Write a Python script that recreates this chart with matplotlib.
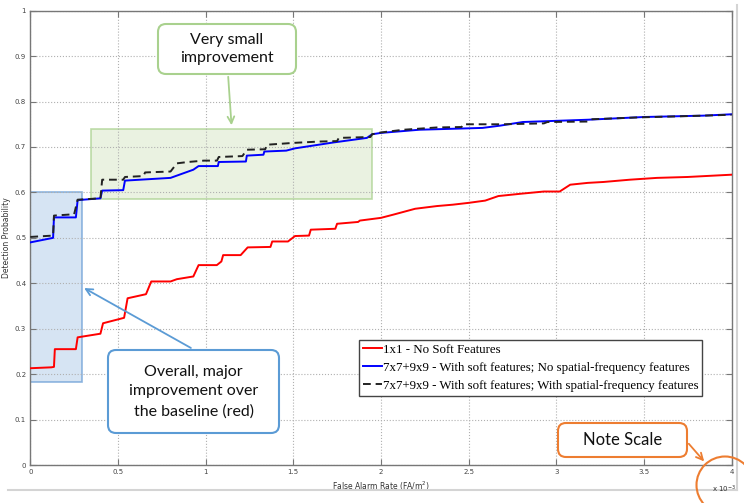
import matplotlib
matplotlib.use("Agg")
import matplotlib.pyplot as plt
from matplotlib.patches import Rectangle, FancyBboxPatch, Circle

# false alarm rate in units of 1e-3 FA/m^2, detection probability
red_x = [0, 0.12, 0.135, 0.14, 0.26, 0.27, 0.40, 0.415, 0.535, 0.555, 0.66, 0.69, 0.80, 0.836,
         0.93, 0.96, 1.064, 1.09, 1.10, 1.20, 1.24, 1.37, 1.38, 1.47, 1.51, 1.59, 1.60, 1.74,
         1.75, 1.87, 1.88, 2.00, 2.07, 2.195, 2.32, 2.41, 2.50, 2.595, 2.67, 2.795, 2.93, 3.02,
         3.08, 3.18, 3.27, 3.42, 3.575, 3.75, 4.0]
red_y = [0.213, 0.215, 0.216, 0.255, 0.255, 0.281, 0.289, 0.312, 0.324, 0.367, 0.376, 0.404,
         0.404, 0.409, 0.415, 0.440, 0.440, 0.448, 0.462, 0.462, 0.479, 0.480, 0.492, 0.492,
         0.504, 0.505, 0.518, 0.520, 0.531, 0.535, 0.538, 0.544, 0.551, 0.564, 0.570, 0.573,
         0.577, 0.582, 0.592, 0.597, 0.602, 0.602, 0.617, 0.621, 0.623, 0.628, 0.632, 0.634,
         0.639]

blue_x = [0, 0.13, 0.135, 0.26, 0.27, 0.40, 0.41, 0.53, 0.54, 0.80, 0.93, 0.96, 1.07, 1.075,
          1.23, 1.235, 1.33, 1.335, 1.46, 1.51, 1.73, 1.92, 1.95, 2.0, 2.22, 2.58, 2.68, 2.81,
          3.18, 3.5, 3.84, 4.0]
blue_y = [0.490, 0.500, 0.545, 0.545, 0.583, 0.587, 0.604, 0.605, 0.626, 0.632, 0.650, 0.658,
          0.658, 0.667, 0.668, 0.681, 0.683, 0.690, 0.692, 0.697, 0.710, 0.720, 0.728, 0.731,
          0.738, 0.742, 0.747, 0.755, 0.760, 0.766, 0.769, 0.772]

dash_x = [0, 0.13, 0.135, 0.25, 0.27, 0.40, 0.41, 0.53, 0.54, 0.645, 0.655, 0.80, 0.836, 0.90,
          0.99, 1.065, 1.075, 1.21, 1.235, 1.34, 1.35, 1.50, 1.65, 1.75, 1.76, 1.94, 1.95,
          2.0, 2.13, 2.32, 2.46, 2.47, 2.70, 2.93, 2.95, 3.18, 3.20, 3.46, 3.65, 3.84, 4.0]
dash_y = [0.502, 0.505, 0.549, 0.552, 0.584, 0.587, 0.628, 0.628, 0.634, 0.636, 0.644, 0.646,
          0.664, 0.667, 0.670, 0.670, 0.678, 0.680, 0.694, 0.695, 0.705, 0.709, 0.712, 0.713,
          0.720, 0.722, 0.728, 0.732, 0.738, 0.743, 0.744, 0.750, 0.750, 0.752, 0.755, 0.756,
          0.761, 0.765, 0.767, 0.769, 0.771]

labels = ["1x1 - No Soft Features",
          "7x7+9x9 - With soft features; No spatial-frequency features",
          "7x7+9x9 - With soft features; With spatial-frequency features"]

W, H = 744, 503
fig = plt.figure(figsize=(W / 100, H / 100), dpi=100)
fig.patch.set_facecolor("white")

ax = fig.add_axes([30.3 / W, 38 / H, 701.2 / W, 454.3 / H])

# highlighted regions behind the curves
ax.add_patch(Rectangle((0.345, 0.5865), 1.952 - 0.345, 0.739 - 0.5865,
                       facecolor="#e3eed8", edgecolor="#a9d18e", lw=1.2, alpha=0.75, zorder=1))
ax.add_patch(Rectangle((0.0, 0.182), 0.293, 0.6 - 0.182,
                       facecolor="#c9dbef", edgecolor="#6c9fd6", lw=1.2, alpha=0.75, zorder=1))

ax.plot(red_x, red_y, color="red", lw=1.4, label=labels[0], zorder=3)
ax.plot(blue_x, blue_y, color="blue", lw=1.4, label=labels[1], zorder=3)
ax.plot(dash_x, dash_y, color="#222222", lw=1.4, ls=(0, (4, 2.5)), label=labels[2], zorder=4)

ax.set_xlim(0, 4)
ax.set_ylim(0, 1)
ax.set_xticks([0, 0.5, 1, 1.5, 2, 2.5, 3, 3.5, 4])
ax.set_xticklabels(["0", "0.5", "1", "1.5", "2", "2.5", "3", "3.5", "4"])
ax.set_yticks([i / 10 for i in range(11)])
ax.set_yticklabels(["0", "0.1", "0.2", "0.3", "0.4", "0.5", "0.6", "0.7", "0.8", "0.9", "1"])
ax.tick_params(direction="in", top=True, right=True, length=4, width=0.8,
               labelsize=5, colors="#777777", labelcolor="#444444", pad=3)
ax.grid(True, ls=":", color="#b0b0b0", lw=0.8)
for s in ax.spines.values():
    s.set_color("#777777")
    s.set_linewidth(1.0)

ax.set_xlabel("False Alarm Rate (FA/m$^2$)", fontsize=5.5, color="#333333", labelpad=3)
ax.set_ylabel("Detection Probability", fontsize=5.5, color="#333333", labelpad=3)

leg = ax.legend(loc="upper left", bbox_to_anchor=(359 / W, 1 - 340 / H),
                bbox_transform=fig.transFigure, borderaxespad=0,
                prop={"family": "Liberation Serif", "size": 9.3},
                handlelength=1.5, handletextpad=0.05, labelspacing=0.45, borderpad=0.3,
                fancybox=False, framealpha=1, edgecolor="#444444")
leg.get_frame().set_linewidth(1.0)

# overlay in pixel coordinates for the callouts
ov = fig.add_axes([0, 0, 1, 1])
ov.set_xlim(0, W)
ov.set_ylim(H, 0)
ov.axis("off")
ov.patch.set_alpha(0)

ov.text(724, 489, "x 10$^{-3}$", fontsize=5, color="#333333", ha="center", va="center")

ov.plot([8, 737], [490, 490], color="#d4d4d4", lw=1.5)
ov.plot([737, 737], [5, 490], color="#d4d4d4", lw=1.5)


def callout(x0, y0, x1, y1, color, text, size=11.5, ls=1.5):
    ov.add_patch(FancyBboxPatch((x0, y0), x1 - x0, y1 - y0,
                                boxstyle="round,pad=0,rounding_size=8",
                                facecolor="white", edgecolor=color, lw=1.5, zorder=5))
    ov.text((x0 + x1) / 2, (y0 + y1) / 2, text, ha="center", va="center",
            fontsize=size, family="Lato", color="#111111", linespacing=ls, zorder=6)


callout(158, 24, 296, 74, "#a9d18e", "Very small\nimprovement", ls=1.45)
ov.annotate("", xy=(231.7, 128), xytext=(228, 74),
            arrowprops=dict(arrowstyle="->", color="#a9d18e", lw=1.3, mutation_scale=12))

callout(108, 350, 279, 433, "#5b9bd5", "Overall, major\nimprovement over\nthe baseline (red)", ls=1.5)
ov.annotate("", xy=(81.7, 286.7), xytext=(193.3, 349.3),
            arrowprops=dict(arrowstyle="->", color="#5b9bd5", lw=1.3, mutation_scale=12))

callout(558, 423, 687, 457, "#ed7d31", "Note Scale", size=12)
ov.annotate("", xy=(706, 463.5), xytext=(687, 441.7),
            arrowprops=dict(arrowstyle="->", color="#ed7d31", lw=1.3, mutation_scale=12))
ov.add_patch(Circle((725, 485), 28.5, fill=False, edgecolor="#ed7d31", lw=1.5, zorder=5))

fig.savefig("out.png", dpi=100)
